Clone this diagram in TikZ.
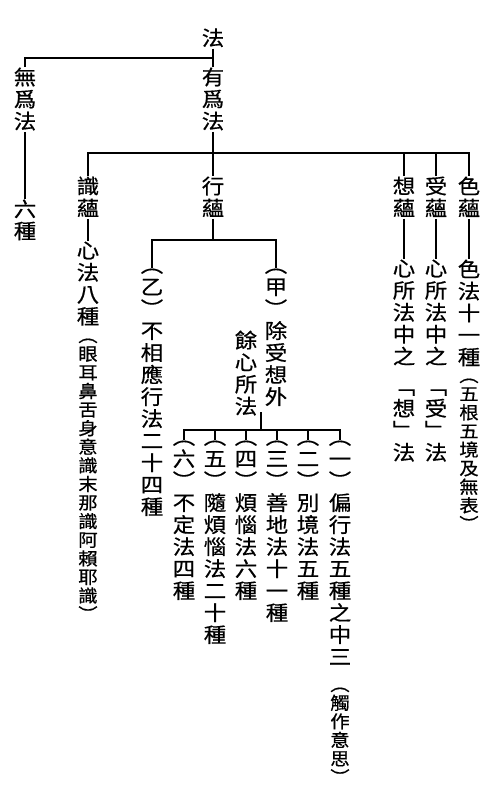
\documentclass[tikz,border=0pt]{standalone}
\usepackage{fontspec}
\newfontfamily\cjk[FakeStretch=1.1, FakeBold=0.6]{Noto Sans CJK TC}
\usetikzlibrary{calc}

\begin{document}
\begin{tikzpicture}[x=0.5pt, y=-0.5pt, line width=0.6pt,
    vtext/.style={anchor=north, align=center, inner sep=0pt,
      execute at end node=\rule[-.12em]{0pt}{0pt}},
    col/.style={vtext, font=\cjk\fontsize{10.2pt}{11pt}\selectfont,
      execute at begin node={\lineskiplimit=-5pt\relax\rule{0pt}{.88em}}},
    note/.style={vtext, font=\cjk\fontsize{8.8pt}{9.3pt}\selectfont,
      execute at begin node={\lineskiplimit=-5pt\relax}}]
  \useasboundingbox (0,0) rectangle (500,793);

  % bus lines of the tree
  \coordinate (bus1) at (0,58);
  \coordinate (bus2) at (0,153);
  \coordinate (bus3) at (0,240);
  \coordinate (bus4) at (0,430);

  \node[col] (root) at (213,27) {法};
  \node[col] (wuwei) at (25,67) {無\\爲\\法};
  \node[col] (youwei) at (213,67) {有\\爲\\法};
  \node[col] (liu) at (25,199) {六\\種};

  % five aggregates
  \node[col] (shiyun) at (88,176) {識\\蘊};
  \node[col] (xingyun) at (213,176) {行\\蘊};
  \node[col] (xiangyun) at (404,176) {想\\蘊};
  \node[col] (shouyun) at (436,176) {受\\蘊};
  \node[col] (seyun) at (469,176) {色\\蘊};

  \node[col] (xinfa) at (88,241) {心\\法\\八\\種};
  \node[note] (shi-note) at (88,338) {︵\\眼\\耳\\鼻\\舌\\身\\意\\識\\末\\那\\識\\阿\\賴\\耶\\識\\︶};

  \node[col] (yi) at (152,268) {︵\\乙\\︶\\不\\相\\應\\行\\法\\二\\十\\四\\種};
  \node[col] (jia) at (276,268) {︵\\甲\\︶\\除\\受\\想\\外};
  \node[col] (yu) at (246,330) {餘\\心\\所\\法};

  \node[col] (c1) at (340,440) {︵\\一\\︶\\偏\\行\\法\\五\\種\\之\\中\\三};
  \node[note] (c1-note) at (340,687) {︵\\觸\\作\\意\\思\\︶};
  \node[col] (c2) at (308,440) {︵\\二\\︶\\別\\境\\法\\五\\種};
  \node[col] (c3) at (277,440) {︵\\三\\︶\\善\\地\\法\\十\\一\\種};
  \node[col] (c4) at (246,440) {︵\\四\\︶\\煩\\惱\\法\\六\\種};
  \node[col] (c5) at (215,440) {︵\\五\\︶\\隨\\煩\\惱\\法\\二\\十\\種};
  \node[col] (c6) at (184,440) {︵\\六\\︶\\不\\定\\法\\四\\種};

  \node[col] (xiang-fa) at (404,259) {心\\所\\法\\中\\之\\[4pt]﹁\\想\\﹂\\法};
  \node[col] (shou-fa) at (436,259) {心\\所\\法\\中\\之\\[4pt]﹁\\受\\﹂\\法};
  \node[col] (se-fa) at (469,259) {色\\法\\十\\一\\種};
  \node[note] (se-note) at (469,378) {︵\\五\\根\\五\\境\\及\\無\\表\\︶};

  % connectors
  \draw (root.south) -- (youwei.north);
  \draw (wuwei.north) |- (root.south |- bus1);
  \draw (wuwei) -- (liu);
  \draw (youwei) -- (xingyun);
  \draw (shiyun.north) |- (seyun.north |- bus2) -- (seyun.north);
  \draw (xiangyun.north) -- (xiangyun.north |- bus2);
  \draw (shouyun.north) -- (shouyun.north |- bus2);
  \draw (shiyun) -- (xinfa);
  \draw (xiangyun) -- (xiang-fa);
  \draw (shouyun) -- (shou-fa);
  \draw (seyun) -- (se-fa);
  \draw (yi.north) |- (jia.north |- bus3) -- (jia.north);
  \draw (xingyun.south) -- (xingyun.south |- bus3);
  \coordinate (jia-mid) at ($(yu.south)!.5!(jia.south)$);
  \draw (jia-mid) -- (jia-mid |- bus4);
  \draw (c6.north) |- (c1.north |- bus4) -- (c1.north);
  \foreach \c in {c2,c3,c4,c5}
    \draw (\c.north) -- (\c.north |- bus4);
\end{tikzpicture}
\end{document}
